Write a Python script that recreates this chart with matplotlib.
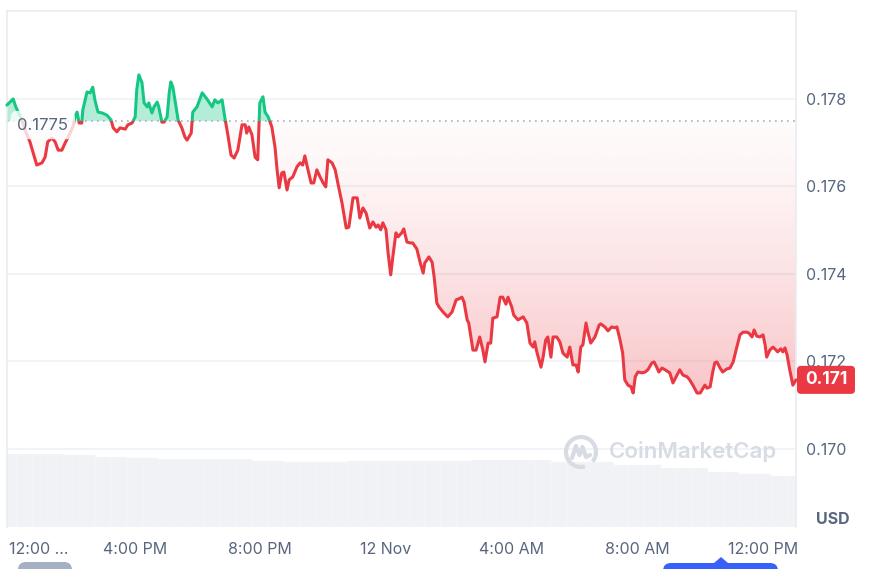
import numpy as np
import matplotlib
matplotlib.use("Agg")
import matplotlib.pyplot as plt
from matplotlib.path import Path
from matplotlib.patches import Rectangle, FancyBboxPatch, Polygon, Arc
import matplotlib.transforms as mtransforms
from matplotlib.colors import to_rgb

plt.rcParams['font.family'] = ['Inter', 'DejaVu Sans']

# ---------------- data ----------------
# minutes after 12:00 PM (11 Nov)
minutes = [-4, 8, 13, 23, 32, 40, 53, 63, 69, 74, 82, 88, 94, 101, 107, 113, 122, 126, 130, 134,
           139, 141, 149, 155, 160, 164, 170, 178, 187, 195, 199, 206, 212, 222, 227, 235, 241, 244, 248, 254,
           258, 264, 267, 273, 277, 283, 286, 292, 296, 302, 306, 309, 313, 319, 323, 330, 336, 340, 348, 351,
           359, 369, 378, 388, 393, 399, 407, 412, 418, 424, 430, 437, 445, 451, 454, 458, 464, 470, 475, 479,
           485, 489, 495, 502, 508, 512, 516, 521, 525, 531, 535, 542, 550, 556, 561, 565, 571, 577, 582, 588,
           594, 600, 605, 609, 617, 623, 628, 636, 644, 649, 657, 665, 670, 676, 682, 689, 695, 701, 705, 710,
           714, 720, 724, 729, 733, 739, 743, 750, 754, 760, 766, 771, 779, 785, 791, 794, 802, 808, 812, 817,
           821, 829, 838, 846, 854, 859, 865, 869, 875, 878, 886, 892, 899, 905, 909, 915, 920, 924, 932, 938,
           943, 949, 953, 960, 964, 972, 982, 989, 995, 1001, 1004, 1008, 1016, 1020, 1025, 1029, 1035, 1039, 1046, 1052,
           1058, 1066, 1071, 1077, 1083, 1087, 1092, 1096, 1102, 1106, 1111, 1119, 1127, 1130, 1138, 1144, 1151, 1157, 1161, 1167,
           1172, 1176, 1182, 1188, 1192, 1196, 1201, 1209, 1215, 1220, 1228, 1232, 1237, 1241, 1247, 1253, 1262, 1268, 1274, 1281,
           1287, 1295, 1300, 1306, 1314, 1320, 1329, 1333, 1339, 1344, 1348, 1352, 1358, 1363, 1371, 1377, 1383, 1390, 1396, 1402,
           1409, 1413, 1419, 1423, 1428, 1434, 1440, 1444, 1447, 1453, 1459, 1465, 1468, 1474, 1478, 1482, 1486, 1491, 1497, 1503]

prices = [0.17786, 0.17800, 0.17782, 0.17757, 0.17725, 0.17702, 0.17649, 0.17654, 0.17667, 0.17702,
          0.17711, 0.17702, 0.17683, 0.17683, 0.17699, 0.17713, 0.17736, 0.17759, 0.17770, 0.17745,
          0.17745, 0.17775, 0.17816, 0.17814, 0.17827, 0.17798, 0.17770, 0.17768, 0.17763, 0.17752,
          0.17734, 0.17725, 0.17734, 0.17731, 0.17741, 0.17745, 0.17759, 0.17821, 0.17855, 0.17837,
          0.17791, 0.17782, 0.17791, 0.17768, 0.17782, 0.17793, 0.17782, 0.17747, 0.17747, 0.17759,
          0.17814, 0.17839, 0.17827, 0.17782, 0.17752, 0.17734, 0.17713, 0.17706, 0.17722, 0.17770,
          0.17782, 0.17814, 0.17800, 0.17782, 0.17798, 0.17791, 0.17798, 0.17759, 0.17718, 0.17672,
          0.17665, 0.17683, 0.17741, 0.17741, 0.17722, 0.17736, 0.17718, 0.17667, 0.17661, 0.17791,
          0.17805, 0.17770, 0.17759, 0.17736, 0.17690, 0.17638, 0.17597, 0.17631, 0.17633, 0.17592,
          0.17615, 0.17622, 0.17645, 0.17654, 0.17649, 0.17670, 0.17638, 0.17608, 0.17608, 0.17638,
          0.17622, 0.17608, 0.17599, 0.17661, 0.17654, 0.17638, 0.17608, 0.17562, 0.17505, 0.17507,
          0.17574, 0.17574, 0.17528, 0.17551, 0.17539, 0.17505, 0.17519, 0.17507, 0.17512, 0.17501,
          0.17517, 0.17501, 0.17448, 0.17398, 0.17439, 0.17494, 0.17485, 0.17494, 0.17503, 0.17473,
          0.17471, 0.17471, 0.17457, 0.17427, 0.17402, 0.17425, 0.17439, 0.17427, 0.17393, 0.17334,
          0.17325, 0.17313, 0.17302, 0.17313, 0.17341, 0.17343, 0.17347, 0.17336, 0.17295, 0.17288,
          0.17226, 0.17226, 0.17256, 0.17226, 0.17199, 0.17242, 0.17242, 0.17299, 0.17302, 0.17347,
          0.17347, 0.17331, 0.17347, 0.17325, 0.17306, 0.17295, 0.17302, 0.17288, 0.17242, 0.17233,
          0.17245, 0.17222, 0.17187, 0.17210, 0.17249, 0.17256, 0.17210, 0.17256, 0.17256, 0.17245,
          0.17219, 0.17210, 0.17233, 0.17192, 0.17192, 0.17176, 0.17233, 0.17238, 0.17288, 0.17265,
          0.17242, 0.17256, 0.17283, 0.17286, 0.17279, 0.17270, 0.17279, 0.17277, 0.17279, 0.17249,
          0.17219, 0.17158, 0.17146, 0.17142, 0.17128, 0.17165, 0.17176, 0.17174, 0.17176, 0.17181,
          0.17197, 0.17199, 0.17187, 0.17176, 0.17185, 0.17181, 0.17174, 0.17151, 0.17165, 0.17181,
          0.17169, 0.17165, 0.17158, 0.17146, 0.17128, 0.17128, 0.17146, 0.17139, 0.17142, 0.17176,
          0.17197, 0.17199, 0.17185, 0.17176, 0.17183, 0.17185, 0.17199, 0.17233, 0.17261, 0.17267,
          0.17267, 0.17265, 0.17256, 0.17272, 0.17258, 0.17256, 0.17261, 0.17238, 0.17210, 0.17226,
          0.17233, 0.17226, 0.17222, 0.17229, 0.17222, 0.17231, 0.17215, 0.17181, 0.17146, 0.17158]

baseline = 0.1775
baseline_label = "0.1775"
last_label = "0.171"

vol_minutes = list(range(0, 1501, 30))
volumes = [73, 73, 73, 73, 72, 72, 70, 70, 69, 69, 68, 68, 68, 68, 68, 68, 66, 66, 65, 65,
           65, 65, 66, 66, 66, 66, 66, 66, 66, 66, 67, 67, 67, 67, 67, 65, 65, 65, 65, 62,
           62, 62, 59, 59, 59, 55, 55, 53, 53, 51, 51]

y_ticks = [0.170, 0.172, 0.174, 0.176, 0.178]
x_tick_minutes = [0, 240, 480, 720, 960, 1200, 1440]
x_tick_labels = ["12:00 ...", "4:00 PM", "8:00 PM", "12 Nov", "4:00 AM", "8:00 AM", "12:00 PM"]

# ---------------- style ----------------
GREEN = '#16c784'
RED = '#ea3943'
TXT = '#58667e'
GRID = '#eff2f5'
BORDER = '#e9ecf0'

W, H = 878, 569
fig = plt.figure(figsize=(W / 100, H / 100), dpi=100)
rect = [7 / W, 1 - 527 / H, 789 / W, 516 / H]

ax_vol = fig.add_axes(rect)
ax = fig.add_axes(rect)
ax.patch.set_visible(False)

n = min(len(minutes), len(prices))
t = np.array(minutes[:n], dtype=float)
p = np.array(prices[:n], dtype=float)

XMIN, XMAX = -3.8, 1503
YMIN, YMAX = 0.168217, 0.180011

# volume
ax_vol.bar(vol_minutes, volumes, width=30, color='#f0f2f6', edgecolor='#f8f9fb', linewidth=0.3, align='center')
ax_vol.set_xlim(XMIN, XMAX)
ax_vol.set_ylim(0, 516)
ax_vol.axis('off')

# grid
for yv in y_ticks:
    ax.axhline(yv, color=GRID, lw=1.2, zorder=0)

# green fill
ax.fill_between(t, p, baseline, where=p >= baseline, interpolate=True,
                color=GREEN, alpha=0.32, lw=0, zorder=1)

# red gradient fill
poly = ax.fill_between(t, p, baseline, where=p <= baseline, interpolate=True,
                       facecolor='none', edgecolor='none', lw=0)
cpath = Path.make_compound_path(*poly.get_paths())
N = 256
img = np.zeros((N, 1, 4))
img[..., :3] = to_rgb(RED)
s = np.linspace(0, 1, N)
img[:, 0, 3] = 0.02 + 0.27 * s ** 1.3
im = ax.imshow(img, extent=[t[0], t[-1], p.min(), baseline], aspect='auto',
               origin='upper', zorder=1, interpolation='bilinear')
im.set_clip_path(cpath, transform=ax.transData)

# baseline dotted
ax.axhline(baseline, color='#a6b0c3', lw=1.2, ls=(0, (1, 2.6)), zorder=2)

# price line, colored by side of baseline
lg, = ax.plot(t, p, color=GREEN, lw=2.2, zorder=3, solid_joinstyle='round', solid_capstyle='round')
lr, = ax.plot(t, p, color=RED, lw=2.2, zorder=3, solid_joinstyle='round', solid_capstyle='round')
up = Rectangle((XMIN - 100, baseline), XMAX - XMIN + 200, 1.0, transform=ax.transData)
dn = Rectangle((XMIN - 100, baseline - 1.0), XMAX - XMIN + 200, 1.0, transform=ax.transData)
lg.set_clip_path(up)
lr.set_clip_path(dn)

ax.set_xlim(XMIN, XMAX)
ax.set_ylim(YMIN, YMAX)

# baseline label
ax.annotate(baseline_label, xy=(t[0], baseline), xytext=(7.5, -3), textcoords='offset points',
            ha='left', va='center', fontsize=12, color=TXT, zorder=5,
            bbox=dict(boxstyle='round,pad=0.4', fc='white', ec='none', alpha=0.78))

# axes styling
ax.yaxis.tick_right()
ax.set_yticks(y_ticks)
ax.set_yticklabels([f"{v:.3f}" for v in y_ticks])
ax.tick_params(axis='y', length=0, pad=7, labelsize=11.5, labelcolor=TXT)
ax.set_xticks(x_tick_minutes)
ax.set_xticklabels(x_tick_labels)
ax.tick_params(axis='x', length=0, pad=11, labelsize=11.5, labelcolor=TXT)
ax.get_xticklabels()[0].set_ha('left')
for side in ['top', 'left', 'right']:
    ax.spines[side].set_color(BORDER)
    ax.spines[side].set_linewidth(1.2)
ax.spines['bottom'].set_visible(False)

ident = mtransforms.IdentityTransform()

# last price tag
fig.canvas.draw()
y_last = ax.transData.transform((t[-1], p[-1]))[1]
tag = FancyBboxPatch((797, y_last - 14), 58, 28, boxstyle='round,pad=0,rounding_size=4',
                     fc=RED, ec='none', transform=ident, zorder=10)
fig.patches.append(tag)
fig.text(826, y_last, last_label, transform=ident, ha='center', va='center',
         fontsize=12.5, fontweight='bold', color='white', zorder=11)

# USD
fig.text(833, H - 519, "USD", transform=ident, ha='center', va='center',
         fontsize=11.5, fontweight='bold', color=TXT)

# watermark
WM = '#d7dbe3'
cx, cy = 581, H - 452
arc = Arc((cx, cy), 30, 30, theta1=-40, theta2=285, lw=3, color=WM, transform=ident)
fig.patches.append(arc)
mx = [cx - 9, cx - 5, cx - 1.5, cx + 1.5, cx + 5, cx + 9]
my = [cy - 6, cy + 6, cy - 3, cy + 5, cy - 5, cy - 3]
fig.lines.append(matplotlib.lines.Line2D(mx, my, lw=3, color=WM, transform=ident,
                                         solid_joinstyle='round', solid_capstyle='round'))
fig.text(609, cy, "CoinMarketCap", transform=ident, ha='left', va='center',
         fontsize=16, fontweight='semibold', color=WM)

# bottom UI fragments
pill = FancyBboxPatch((18, -12), 54, 19, boxstyle='round,pad=0,rounding_size=8',
                      fc='#a6b0c3', ec='none', transform=ident)
fig.patches.append(pill)
blue = FancyBboxPatch((663, -12), 115, 18, boxstyle='round,pad=0,rounding_size=8',
                      fc='#3861fb', ec='none', transform=ident)
fig.patches.append(blue)
tri = Polygon([(714, 6), (721, 12), (728, 6)], closed=True, fc='#3861fb', ec='none', transform=ident)
fig.patches.append(tri)

fig.savefig('out.png', dpi=100)
